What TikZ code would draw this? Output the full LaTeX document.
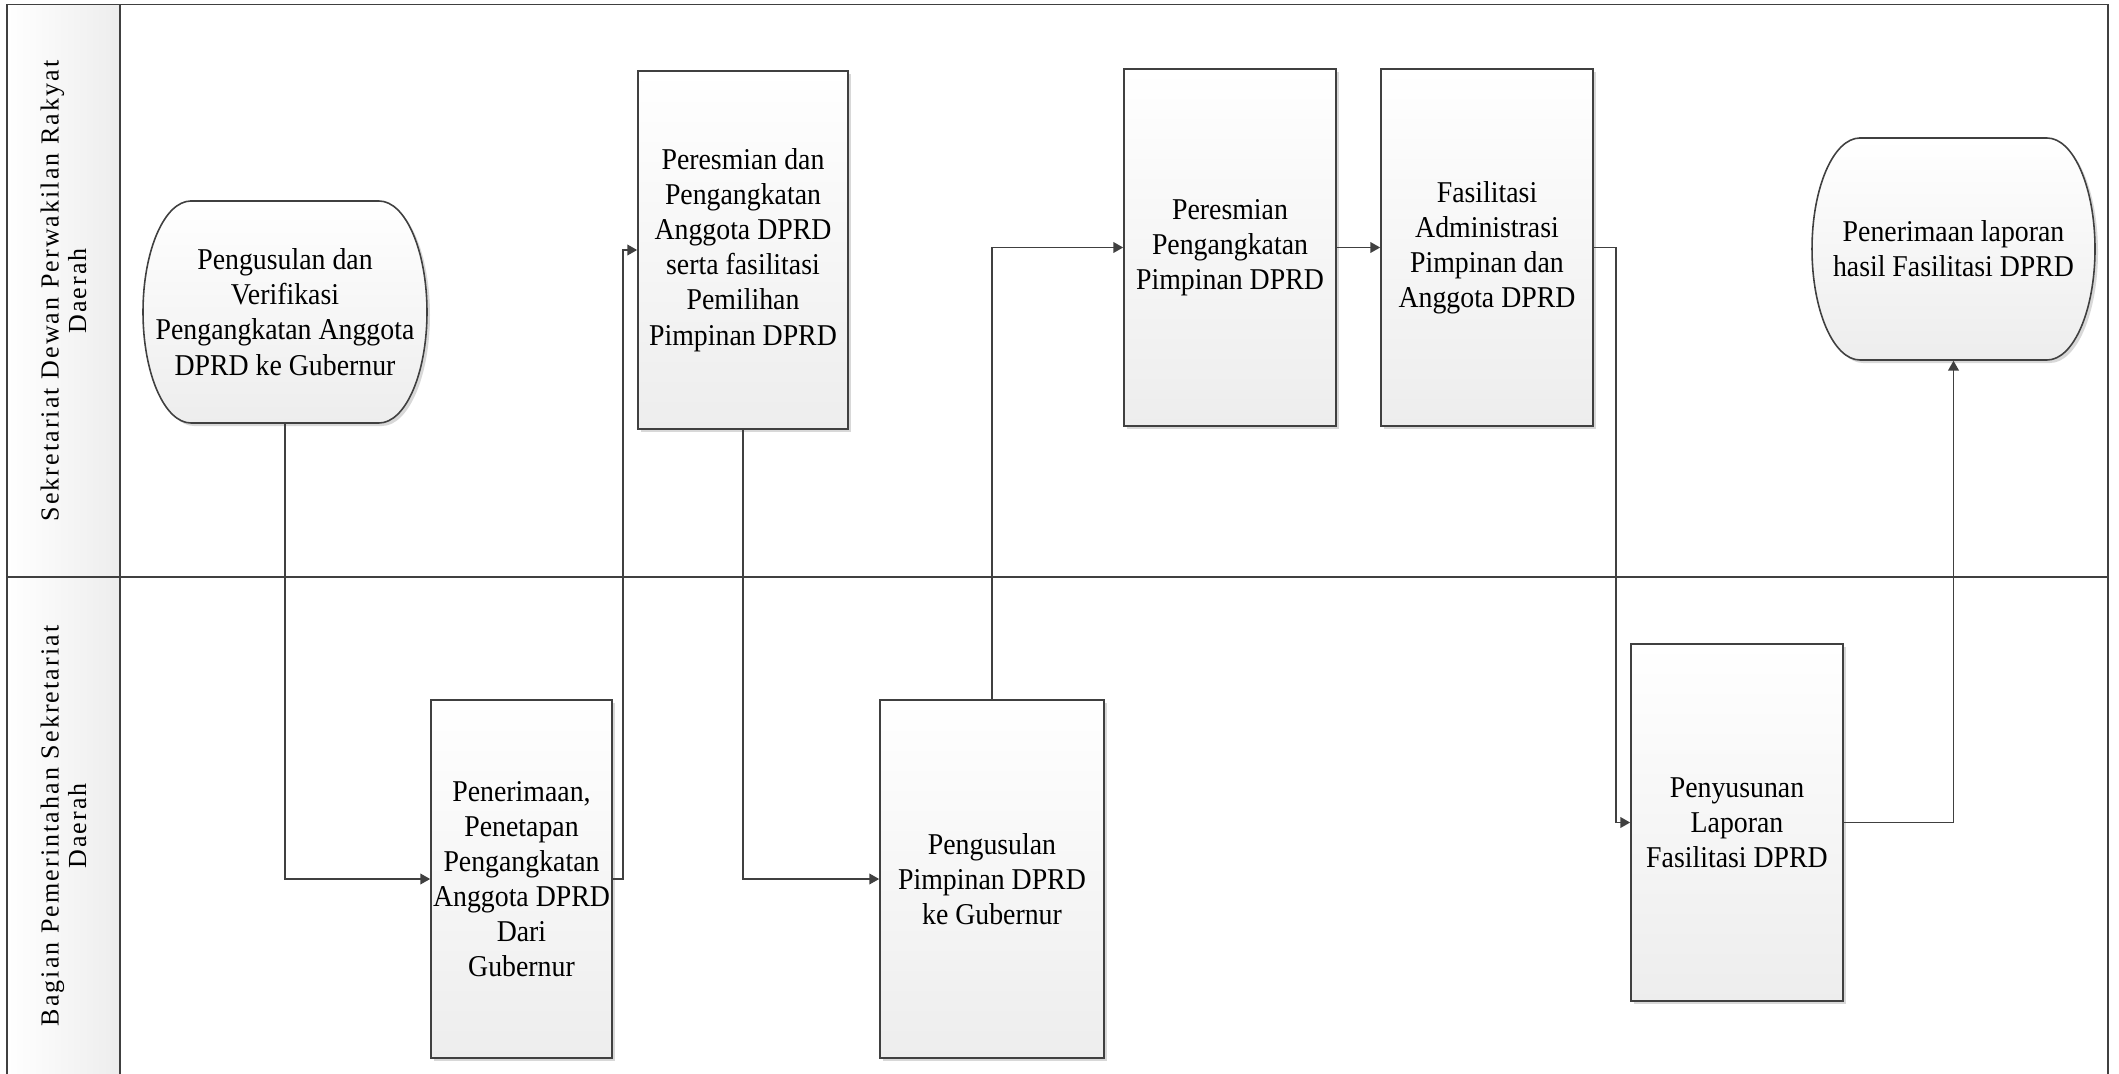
\documentclass[tikz,border=0pt]{standalone}
\usepackage{fontspec}
\setmainfont{Liberation Serif}[FakeStretch=0.92]
\newfontfamily\lanefont{Liberation Serif}[LetterSpace=8]
\usepackage{xcolor}
\usepackage{tikz}
\usetikzlibrary{arrows.meta, shadows}

\definecolor{linegray}{HTML}{404040}

\begin{document}
\begin{tikzpicture}[
            lane/.style={draw=linegray, line width=0.55pt},
            lanetitle/.style={rotate=90, align=center, font=\lanefont\fontsize{7.4}{7.8}\selectfont},
            stepbox/.style={draw=linegray, line width=0.45pt, top color=white, bottom color=black!7, drop shadow={shadow xshift=0.03cm, shadow yshift=-0.03cm, fill=black!30, opacity=0.5}, align=center, inner sep=0pt, font=\fontsize{8.6}{10}\selectfont},
            termline/.style={draw=linegray, line width=0.45pt, top color=white, bottom color=black!7, drop shadow={shadow xshift=0.03cm, shadow yshift=-0.03cm, fill=black!30, opacity=0.5}},
            terminal/.style={align=center, inner sep=0pt, minimum width=2.84cm, minimum height=2.22cm, font=\fontsize{8.6}{10}\selectfont},
            flow/.style={draw=linegray, line width=0.55pt, -{Triangle[length=2.8pt, width=3pt]}}
        ]
            \useasboundingbox (0,0) rectangle (21.19,-10.74);

            \path[left color=white, right color=black!7] (0.07,-0.045) rectangle (1.20,-10.74);
            \draw[lane] (0.07,-10.74) -- (0.07,-0.045) -- (21.08,-0.045) -- (21.08,-10.74);
            \draw[lane] (1.20,-0.045) -- (1.20,-10.74);
            \draw[lane] (0.07,-5.77) -- (21.08,-5.77);

            \node[lanetitle] (lane1) at (0.635,-2.91) {Sekretariat Dewan Perwakilan Rakyat\\Daerah};
            \node[lanetitle] (lane2) at (0.635,-8.26) {Bagian Pemerintahan Sekretariat\\Daerah};

            \path[termline] (1.91,-2.01) -- (3.79,-2.01) arc[start angle=90, end angle=-90, x radius=0.48, y radius=1.11] -- (1.91,-4.23) arc[start angle=270, end angle=90, x radius=0.48, y radius=1.11] -- cycle;
            \path[termline] (18.60,-1.38) -- (20.47,-1.38) arc[start angle=90, end angle=-90, x radius=0.48, y radius=1.11] -- (18.60,-3.60) arc[start angle=270, end angle=90, x radius=0.48, y radius=1.11] -- cycle;

            \node[terminal] (usul) at (2.85,-3.12) {Pengusulan dan\\Verifikasi\\Pengangkatan Anggota\\DPRD ke Gubernur};
            \node[stepbox, minimum width=1.81cm, minimum height=3.58cm] (tetap) at (5.215,-8.79) {Penerimaan,\\Penetapan\\Pengangkatan\\Anggota DPRD\\Dari\\Gubernur};
            \node[stepbox, minimum width=2.10cm, minimum height=3.58cm] (resmi) at (7.43,-2.50) {Peresmian dan\\Pengangkatan\\Anggota DPRD\\serta fasilitasi\\Pemilihan\\Pimpinan DPRD};
            \node[stepbox, minimum width=2.24cm, minimum height=3.58cm] (usulpim) at (9.92,-8.79) {Pengusulan\\Pimpinan DPRD\\ke Gubernur};
            \node[stepbox, minimum width=2.12cm, minimum height=3.57cm] (resmipim) at (12.30,-2.475) {Peresmian\\Pengangkatan\\Pimpinan DPRD};
            \node[stepbox, minimum width=2.12cm, minimum height=3.57cm] (admin) at (14.87,-2.475) {Fasilitasi\\Administrasi\\Pimpinan dan\\Anggota DPRD};
            \node[stepbox, minimum width=2.12cm, minimum height=3.57cm] (lapor) at (17.37,-8.225) {Penyusunan\\Laporan\\Fasilitasi DPRD};
            \node[terminal] (terima) at (19.535,-2.49) {Penerimaan laporan\\hasil Fasilitasi DPRD};

            \draw[flow] (usul.south) |- (tetap.west);
            \draw[flow] (tetap.east) -- ++(0.10,0) |- (resmi.west);
            \draw[flow] (resmi.south) |- (usulpim.west);
            \draw[flow] (usulpim.north) |- (resmipim.west);
            \draw[flow] (resmipim.east) -- (admin.west);
            \draw[flow] (admin.east) -- ++(0.22,0) |- (lapor.west);
            \draw[flow] (lapor.east) -| (terima.south);
        \end{tikzpicture}
\end{document}
